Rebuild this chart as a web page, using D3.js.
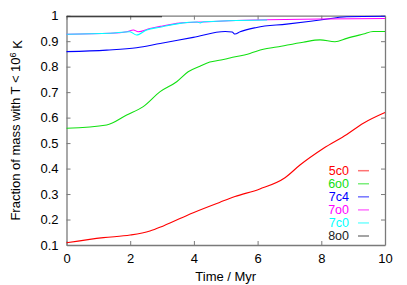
<!DOCTYPE html>
<html lang="en">
<head>
<meta charset="UTF-8">
<title>Fraction of mass</title>
<script src="https://cdnjs.cloudflare.com/ajax/libs/d3/7.8.5/d3.min.js"></script>
<style>
  body { margin: 0; background: #fff; }
  text { font-family: "Liberation Sans", Arial, sans-serif; }
</style>
</head>
<body>
<svg width="407" height="285" id="canvas"></svg>
<script>
// series names + colours (legend order)
const names = ["5c0", "6o0", "7c4", "7o0", "7c0", "8o0"];
const colors = ["#ff0000", "#11e011", "#0000ff", "#ff00ff", "#00ffff", "#222222"];

// time (Myr) and fraction values
const t5c0 = [0, 1.16, 2, 2.62, 3.04, 3.98, 4.82, 5.29, 6.07, 6.86, 7.33, 8.06, 8.8, 9.32, 10];
const v5c0 = [0.109, 0.129, 0.139, 0.155, 0.175, 0.227, 0.268, 0.29, 0.32, 0.364, 0.414, 0.479, 0.534, 0.578, 0.62];

const t6o0 = [0, 1.26, 1.89, 2.41, 2.94, 3.46, 3.82, 4.19, 4.5, 4.85, 5.13, 5.76, 6.18, 6.6, 7.43, 7.96, 8.43, 8.8, 9.32, 9.63, 10];
const v6o0 = [0.558, 0.571, 0.61, 0.643, 0.702, 0.741, 0.78, 0.802, 0.818, 0.826, 0.834, 0.852, 0.868, 0.877, 0.896, 0.905, 0.898, 0.911, 0.928, 0.938, 0.938];

const t7c4 = [0, 1.26, 2.2, 2.94, 3.98, 4.98, 5.2, 5.29, 5.45, 5.97, 6.91, 7.96, 8.8, 10];
const v7c4 = [0.859, 0.865, 0.874, 0.891, 0.915, 0.938, 0.936, 0.928, 0.937, 0.954, 0.967, 0.983, 0.996, 0.998];

const t7o0 = [0, 1.37, 1.89, 2.1, 2.25, 2.62, 2.94, 3.56, 4.2, 5.1, 6.3, 8, 10];
const v7o0 = [0.927, 0.931, 0.937, 0.944, 0.937, 0.95, 0.958, 0.971, 0.975, 0.98, 0.984, 0.987, 0.989];

const t7c0 = [0, 1.37, 1.99, 2.2, 2.52, 2.94, 3.56, 4.1, 4.2, 4.3, 5.1, 6.3];
const v7c0 = [0.927, 0.931, 0.937, 0.924, 0.944, 0.955, 0.97, 0.975, 0.972, 0.976, 0.98, 0.983];

const t8o0 = [0, 1, 2, 3];
const v8o0 = [0.996, 0.996, 0.996, 0.996];

const xTicks = [0, 2, 4, 6, 8, 10];
const yTicks = [0.1, 0.2, 0.3, 0.4, 0.5, 0.6, 0.7, 0.8, 0.9, 1];
const yTickLabels = ["0.1", "0.2", "0.3", "0.4", "0.5", "0.6", "0.7", "0.8", "0.9", "1"];

const times = [t5c0, t6o0, t7c4, t7o0, t7c0, t8o0];
const values = [v5c0, v6o0, v7c4, v7o0, v7c0, v8o0];
const series = names.map((n, i) => ({
  name: n, color: colors[i],
  pts: times[i].map((t, j) => [t, values[i][j]])
}));

const svg = d3.select("#canvas");
const m = { left: 66.5, right: 385, top: 15.7, bottom: 245 };
const fs = "13px";

const x = d3.scaleLinear().domain([0, 10]).range([m.left, m.right]);
const y = d3.scaleLinear().domain([0.1, 1]).range([m.bottom, m.top]);

const axisCol = "#7a7a7a";

// ticks on all four sides, pointing inwards (gnuplot style)
const g = svg.append("g");
g.append("g").attr("transform", `translate(0,${m.bottom})`)
  .call(d3.axisBottom(x).tickValues(xTicks).tickSizeInner(-4).tickSizeOuter(0).tickPadding(9));
g.append("g").attr("transform", `translate(0,${m.top})`)
  .call(d3.axisTop(x).tickValues(xTicks).tickSizeInner(-4).tickSizeOuter(0).tickFormat(""));
g.append("g").attr("transform", `translate(${m.left},0)`)
  .call(d3.axisLeft(y).tickValues(yTicks).tickSizeInner(-4).tickSizeOuter(0).tickPadding(8)
    .tickFormat((d, i) => yTickLabels[i]));
g.append("g").attr("transform", `translate(${m.right},0)`)
  .call(d3.axisRight(y).tickValues(yTicks).tickSizeInner(-4).tickSizeOuter(0).tickFormat(""));

g.selectAll(".domain").attr("stroke", axisCol).attr("stroke-width", 1.3);
g.selectAll(".tick line").attr("stroke", axisCol);
g.selectAll(".tick text").attr("fill", "#000").style("font-size", fs)
  .style("font-family", "'Liberation Sans', Arial, sans-serif");

// curves
const line = d3.line().curve(d3.curveMonotoneX).x(d => x(d[0])).y(d => y(d[1]));
svg.append("g").selectAll("path")
  .data(series)
  .join("path")
  .attr("d", d => line(d.pts))
  .attr("fill", "none")
  .attr("stroke", d => d.color)
  .attr("stroke-width", 1.1);

// legend
const leg = svg.append("g");
series.forEach((s, i) => {
  const yy = 170.7 + i * 13.06;
  leg.append("text")
    .attr("x", 349).attr("y", yy).attr("dy", "0.35em")
    .attr("text-anchor", "end")
    .attr("fill", s.color)
    .style("font-size", "12.5px")
    .text(s.name);
  leg.append("line")
    .attr("x1", 358).attr("x2", 369).attr("y1", yy).attr("y2", yy)
    .attr("stroke", s.color).attr("stroke-opacity", 0.55).attr("stroke-width", 1.5);
});

// axis titles
svg.append("text")
  .attr("x", (m.left + m.right) / 2).attr("y", 280.5)
  .attr("text-anchor", "middle")
  .style("font-size", fs)
  .text("Time / Myr");

const yl = svg.append("text")
  .attr("transform", `translate(20,${(m.top + m.bottom) / 2}) rotate(-90)`)
  .attr("text-anchor", "middle")
  .style("font-size", fs);
yl.append("tspan").text("Fraction of mass with T < 10");
yl.append("tspan").attr("dy", "-0.45em").style("font-size", "9px").text("6");
yl.append("tspan").attr("dy", "0.45em").text(" K");
</script>
</body>
</html>
